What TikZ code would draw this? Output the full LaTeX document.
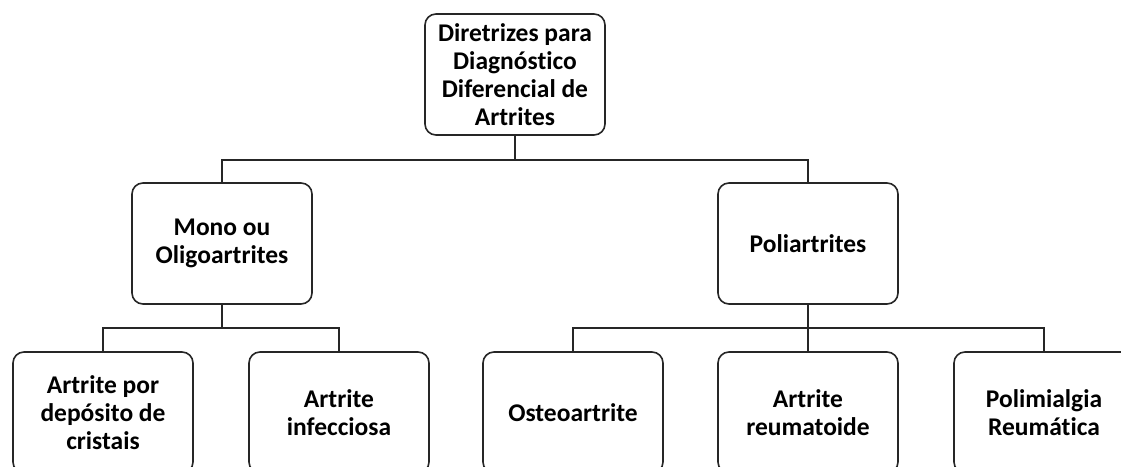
\documentclass[tikz,border=0pt]{standalone}
\usepackage{fontspec}
\setmainfont[Ligatures=NoCommon]{Carlito}
\begin{document}
\begin{tikzpicture}[x=1pt,y=-1pt,
  box/.style={draw=black!85, line width=1.6pt, rounded corners=11pt,
    minimum width=180pt, minimum height=121pt, inner sep=0pt,
    align=center, font=\fontsize{25.5}{28}\selectfont\bfseries},
  conn/.style={draw=black!85, line width=1.6pt}]
\useasboundingbox (0,0) rectangle (1121,466);
\clip (0,0) rectangle (1121,466);
\node[box] (top) at (515,74.5) {Diretrizes para\\Diagnóstico\\Diferencial de\\Artrites};
\node[box] (mono) at (222,243.5) {Mono ou\\Oligoartrites};
\node[box] (poli) at (808,243.5) {Poliartrites};
\node[box] (cris) at (103,412.5) {Artrite por\\depósito de\\cristais};
\node[box] (inf) at (339,412.5) {Artrite\\infecciosa};
\node[box] (ost) at (573,412.5) {Osteoartrite};
\node[box] (reu) at (808,412.5) {Artrite\\reumatoide};
\node[box] (pmr) at (1044,412.5) {Polimialgia\\Reumática};
\draw[conn] (top.south) -- ++(0,24) -| (mono.north);
\draw[conn] (top.south) -- ++(0,24) -| (poli.north);
\draw[conn] (mono.south) -- ++(0,23) -| (cris.north);
\draw[conn] (mono.south) -- ++(0,23) -| (inf.north);
\draw[conn] (poli.south) -- ++(0,23) -| (ost.north);
\draw[conn] (poli.south) -- ++(0,23) -| (reu.north);
\draw[conn] (poli.south) -- ++(0,23) -| (pmr.north);
\end{tikzpicture}
\end{document}
